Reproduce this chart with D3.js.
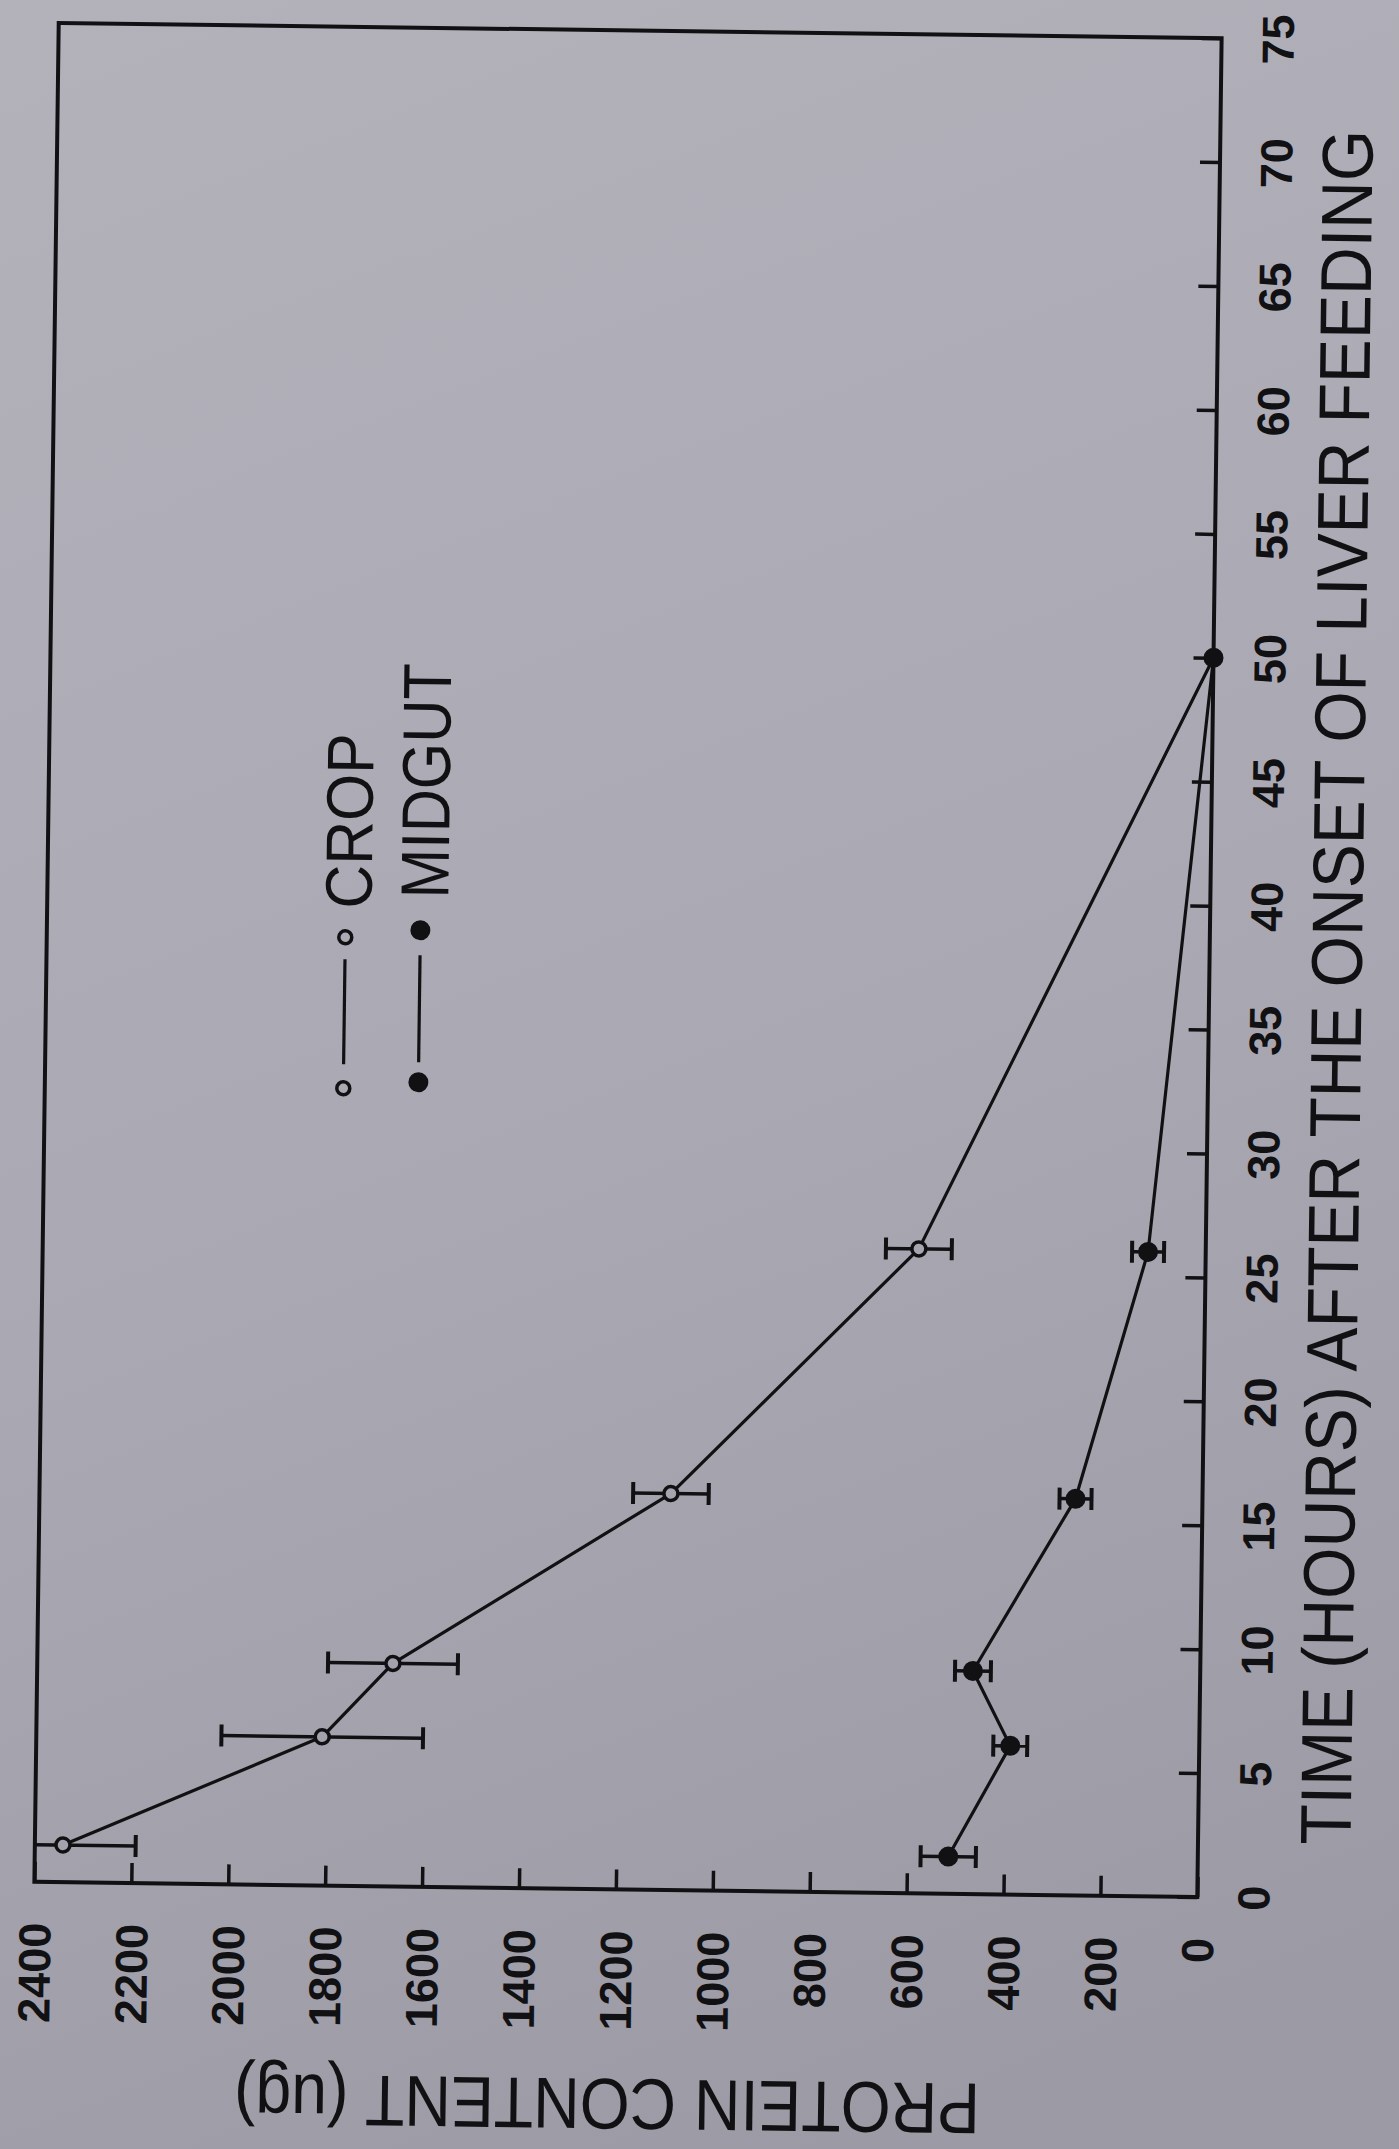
<!DOCTYPE html>
<html>
<head>
<meta charset="utf-8">
<script src="https://cdn.jsdelivr.net/npm/d3@7"></script>
<style>
  html, body { margin: 0; padding: 0; background: #a9a8b2; }
  svg { display: block; }
</style>
</head>
<body>
<svg id="chart" width="1399" height="2149"></svg>
<script>
// Protein content of crop and midgut after the onset of liver feeding
const hours       = [1.5, 6, 9, 16, 26, 50];
const cropMean    = [2342, 1810, 1666, 1097, 592, 0];
const cropSE      = [150, 208, 134, 78, 68, 0];
const midgutMean  = [515, 390, 469, 262, 119, 0];
const midgutSE    = [57, 35, 37, 33, 33, 0];
const seriesNames = ["CROP", "MIDGUT"];
const proteinTicks = [0, 200, 400, 600, 800, 1000, 1200, 1400, 1600, 1800, 2000, 2200, 2400];
const hourTicks    = [0, 5, 10, 15, 20, 25, 30, 35, 40, 45, 50, 55, 60, 65, 70, 75];
const proteinTitle = "PROTEIN CONTENT (ug)";
const hourTitle    = "TIME (HOURS) AFTER THE ONSET OF LIVER FEEDING";

const W = 1399, H = 2149;
const ink = "#111114";
const svg = d3.select("#chart");

// paper tone
const defs = svg.append("defs");
const grad = defs.append("linearGradient").attr("id", "paper")
  .attr("gradientUnits", "userSpaceOnUse")
  .attr("x1", 0).attr("y1", 0).attr("x2", W * 0.6).attr("y2", H);
grad.append("stop").attr("offset", 0).attr("stop-color", "#b3b2bb");
grad.append("stop").attr("offset", 0.55).attr("stop-color", "#aaa9b3");
grad.append("stop").attr("offset", 1).attr("stop-color", "#9b9aa5");
svg.append("rect").attr("width", W).attr("height", H).attr("fill", "url(#paper)");

// the whole figure is printed sideways and sits slightly askew on the page
const box = { left: 46.5, right: 1209.5, top: 30.5, bottom: 1889.5 };
const g = svg.append("g").attr("transform", "rotate(0.75, 628, 960)");

// protein runs along the bottom (2400 at left, 0 at right); hours run up the right side
const x = d3.scaleLinear().domain([2400, 0]).range([box.left, box.right]);
const y = d3.scaleLinear().domain([0, 75]).range([box.bottom, box.top]);

// frame
g.append("rect")
  .attr("x", box.left).attr("y", box.top)
  .attr("width", box.right - box.left).attr("height", box.bottom - box.top)
  .attr("fill", "none").attr("stroke", ink).attr("stroke-width", 4);

// protein axis (bottom), ticks pointing inward, labels turned to read upward
const xAxis = g.append("g")
  .attr("transform", `translate(0,${box.bottom})`)
  .call(d3.axisBottom(x).tickValues(proteinTicks).tickSizeInner(-20).tickSizeOuter(0).tickFormat(d3.format("d")));
xAxis.select(".domain").remove();
xAxis.selectAll(".tick line").attr("stroke", ink).attr("stroke-width", 3.5);
xAxis.selectAll(".tick text")
  .attr("transform", "rotate(-90)")
  .attr("x", -41).attr("y", 0).attr("dy", "0.36em")
  .attr("text-anchor", "end")
  .attr("fill", ink)
  .style("font-family", "'Liberation Sans', Arial, sans-serif")
  .style("font-weight", "bold")
  .style("font-size", "45px");

// hours axis (right), ticks pointing inward
const yAxis = g.append("g")
  .attr("transform", `translate(${box.right},0)`)
  .call(d3.axisRight(y).tickValues(hourTicks).tickSizeInner(-20).tickSizeOuter(0).tickFormat(d3.format("d")));
yAxis.select(".domain").remove();
yAxis.selectAll(".tick line").attr("stroke", ink).attr("stroke-width", 3.5);
yAxis.selectAll(".tick text")
  .attr("transform", "translate(56,0) rotate(-90)")
  .attr("x", 0).attr("y", 0).attr("dy", "0.36em")
  .attr("text-anchor", "middle")
  .attr("fill", ink)
  .style("font-family", "'Liberation Sans', Arial, sans-serif")
  .style("font-weight", "bold")
  .style("font-size", "45px");

// axis titles
g.append("text")
  .attr("transform", "translate(622,2105) rotate(180)")
  .attr("dy", "0.36em").attr("text-anchor", "middle")
  .attr("textLength", 746).attr("lengthAdjust", "spacingAndGlyphs")
  .attr("fill", ink)
  .style("font-family", "'Liberation Sans', Arial, sans-serif")
  .style("font-size", "72px")
  .text(proteinTitle);

g.append("text")
  .attr("transform", "translate(1336,978) rotate(-90)")
  .attr("dy", "0.36em").attr("text-anchor", "middle")
  .attr("textLength", 1715).attr("lengthAdjust", "spacingAndGlyphs")
  .attr("fill", ink)
  .style("font-family", "'Liberation Sans', Arial, sans-serif")
  .style("font-size", "72px")
  .text(hourTitle);

// series
const series = [
  { name: seriesNames[0], mean: cropMean, se: cropSE, open: true },
  { name: seriesNames[1], mean: midgutMean, se: midgutSE, open: false }
];

const line = d3.line().x(d => x(d.v)).y(d => y(d.t));
const plot = g.append("g");

series.forEach(s => {
  const pts = hours.map((t, i) => ({ t, v: s.mean[i], e: s.se[i] }));

  plot.append("path").datum(pts)
    .attr("d", line)
    .attr("fill", "none").attr("stroke", ink).attr("stroke-width", 3.2)
    .attr("stroke-linejoin", "round");

  // horizontal error bars with end caps, kept inside the frame
  const eb = plot.append("g");
  pts.filter(p => p.e > 0).forEach(p => {
    const hi = Math.min(p.v + p.e, 2400);
    const lo = Math.max(p.v - p.e, 0);
    eb.append("line")
      .attr("x1", x(hi)).attr("x2", x(lo)).attr("y1", y(p.t)).attr("y2", y(p.t))
      .attr("stroke", ink).attr("stroke-width", 3.5);
    [hi, lo].forEach(v => {
      if (v < 2400 && v > 0) {
        eb.append("line")
          .attr("x1", x(v)).attr("x2", x(v))
          .attr("y1", y(p.t) - 11).attr("y2", y(p.t) + 11)
          .attr("stroke", ink).attr("stroke-width", 4);
      }
    });
  });

  plot.append("g").selectAll("circle").data(pts).join("circle")
    .attr("cx", d => x(d.v)).attr("cy", d => y(d.t))
    .attr("r", s.open ? 7 : 10)
    .attr("fill", s.open ? "url(#paper)" : ink)
    .attr("stroke", ink).attr("stroke-width", s.open ? 3.5 : 0);
});

// legend, set sideways like the rest of the figure
const legendRows = [
  { name: seriesNames[0], cx: 345, yLow: 1092, yHigh: 941, lineFrom: 1068, lineTo: 963, textX: 347, textY: 912, len: 175, size: 66, open: true },
  { name: seriesNames[1], cx: 420, yLow: 1085, yHigh: 933, lineFrom: 1065, lineTo: 958, textX: 423, textY: 901, len: 235, size: 68, open: false }
];
const lg = g.append("g");
legendRows.forEach(r => {
  lg.append("line")
    .attr("x1", r.cx).attr("x2", r.cx).attr("y1", r.lineFrom).attr("y2", r.lineTo)
    .attr("stroke", ink).attr("stroke-width", 3.2);
  [r.yLow, r.yHigh].forEach(cy => {
    lg.append("circle")
      .attr("cx", r.cx).attr("cy", cy)
      .attr("r", r.open ? 6.5 : 10)
      .attr("fill", r.open ? "url(#paper)" : ink)
      .attr("stroke", ink).attr("stroke-width", r.open ? 3.5 : 0);
  });
  lg.append("text")
    .attr("transform", `translate(${r.textX},${r.textY}) rotate(-90)`)
    .attr("dy", "0.36em").attr("text-anchor", "start")
    .attr("textLength", r.len).attr("lengthAdjust", "spacingAndGlyphs")
    .attr("fill", ink)
    .style("font-family", "'Liberation Sans', Arial, sans-serif")
    .style("font-size", r.size + "px")
    .text(r.name);
});
</script>
</body>
</html>
